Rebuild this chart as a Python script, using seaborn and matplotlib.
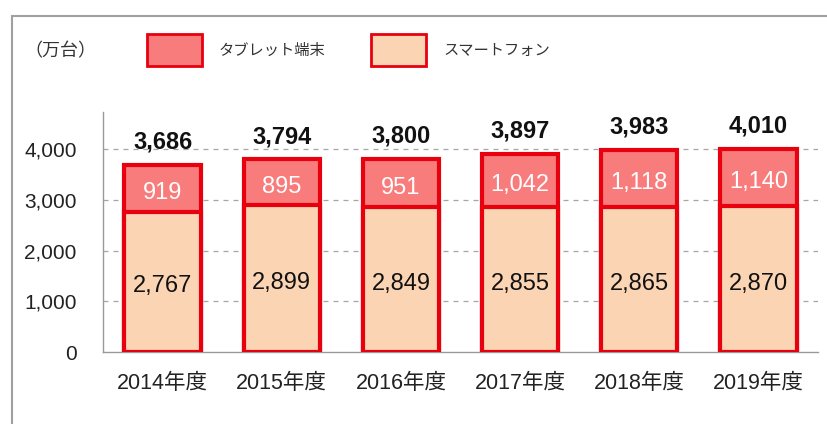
import numpy as np
import pandas as pd
import matplotlib
matplotlib.use("Agg")
import matplotlib.pyplot as plt
from matplotlib.patches import Patch, Rectangle
from matplotlib.ticker import FixedLocator, FuncFormatter
import seaborn as sns

# data (万台)
years = ["2014年度", "2015年度", "2016年度", "2017年度", "2018年度", "2019年度"]
smartphone = [2767, 2899, 2849, 2855, 2865, 2870]
tablet = [919, 895, 951, 1042, 1118, 1140]
totals = [3686, 3794, 3800, 3897, 3983, 4010]

df = pd.DataFrame({"year": years, "smartphone": smartphone,
                   "tablet": tablet, "total": totals})

TAB_COLOR = "#f87c7c"
SP_COLOR = "#fbd4b4"
EDGE = "#e8000e"
GRID = "#a6a6a6"

sns.set_theme(style="white")
plt.rcParams["font.family"] = ["Liberation Sans", "Noto Sans CJK JP", "DejaVu Sans"]

W, H = 828, 424
fig = plt.figure(figsize=(W / 100, H / 100), dpi=100)

# outer frame of the chart area
fig.add_artist(Rectangle((12 / W, -0.05), 1.2, (H - 16) / H + 0.05,
                         transform=fig.transFigure, fill=False,
                         edgecolor="#a0a0a0", linewidth=1.5))

left, right, top, bottom = 103, 818, 112, 352
ax = fig.add_axes([left / W, 1 - bottom / H, (right - left) / W, (bottom - top) / H])

# stacked bars: total (tablet colour) underneath, smartphone on top of it
sns.barplot(data=df, x="year", y="total", color=TAB_COLOR, saturation=1,
            width=0.64, edgecolor=EDGE, linewidth=3, ax=ax, zorder=3)
sns.barplot(data=df, x="year", y="smartphone", color=SP_COLOR, saturation=1,
            width=0.64, edgecolor=EDGE, linewidth=3, ax=ax, zorder=3)

ax.set_xlim(-0.5, len(years) - 0.5)
ax.set_ylim(0, 4730)
ax.set_xlabel("")
ax.set_ylabel("")

ax.set_yticks([0, 1000, 2000, 3000, 4000])
ax.yaxis.set_major_formatter(FuncFormatter(lambda v, p: f"{int(v):,}"))
for y in [1000, 2000, 3000, 4000]:
    ax.axhline(y, color=GRID, linestyle=(0, (4, 4)), linewidth=0.9, zorder=1)

ax.xaxis.set_minor_locator(FixedLocator(np.arange(-0.5, len(years), 1.0)))
ax.tick_params(axis="x", which="major", length=0, labelsize=15.5, pad=15,
               labelcolor="#222222")
ax.tick_params(axis="x", which="minor", length=7, width=1, color="#999999", direction="out")
ax.tick_params(axis="y", length=5, width=1, color="#999999", direction="out",
               labelsize=15, pad=14, labelcolor="#222222")

for s in ["top", "right"]:
    ax.spines[s].set_visible(False)
for s in ["left", "bottom"]:
    ax.spines[s].set_color("#999999")
    ax.spines[s].set_linewidth(1)

for i in range(len(years)):
    ax.text(i, smartphone[i] / 2 - 90, f"{smartphone[i]:,}", ha="center", va="center",
            fontsize=17, color="#111111", zorder=5)
    ax.text(i, smartphone[i] + tablet[i] / 2 - 90, f"{tablet[i]:,}", ha="center",
            va="center", fontsize=17, color="white", zorder=5)
    ax.text(i, totals[i] + 450, f"{totals[i]:,}", ha="center", va="center",
            fontsize=17, fontweight="bold", color="#111111", zorder=5)

fig.text(24 / W, 1 - 52 / H, "（万台）", fontsize=13, va="center", ha="left",
         color="#333333")

handles = [Patch(facecolor=TAB_COLOR, edgecolor=EDGE, linewidth=2, label="タブレット端末"),
           Patch(facecolor=SP_COLOR, edgecolor=EDGE, linewidth=2, label="スマートフォン")]
fig.legend(handles=handles, loc="center left", bbox_to_anchor=(147 / W, 1 - 50 / H),
           ncol=2, frameon=False, fontsize=11, handlelength=3.6, handleheight=2.9,
           handletextpad=1.1, columnspacing=3.0, borderpad=0, borderaxespad=0,
           labelcolor="#333333")

fig.savefig("out.png", dpi=100)
